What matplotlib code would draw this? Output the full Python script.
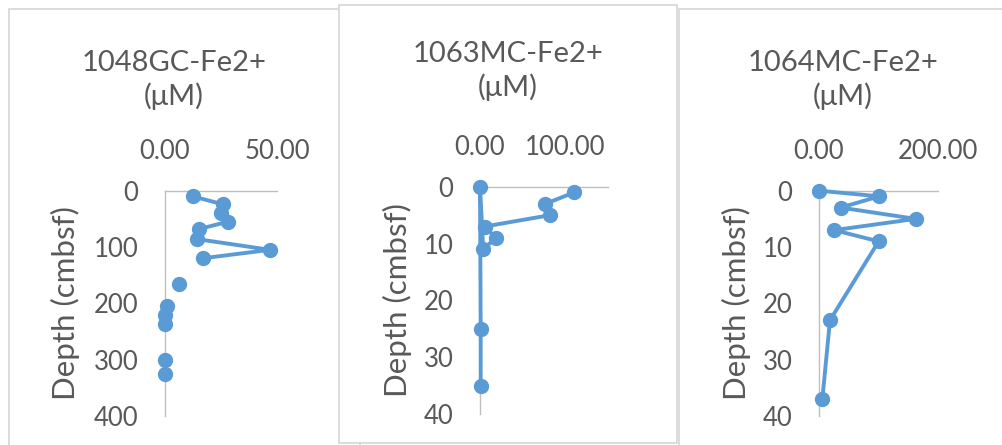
import numpy as np
import matplotlib
matplotlib.use("Agg")
import matplotlib.pyplot as plt
from matplotlib.patches import Rectangle

plt.rcParams['font.family'] = ['Lato', 'DejaVu Sans']

# 1048GC: Fe2+ (uM) vs depth (cmbsf); nan marks a gap in the series
fe_1048 = [12.3, 25.7, 24.8, 28.1, 15.3, 14.4, 46.9, 16.8, np.nan, 6.3, np.nan,
           0.7, np.nan, 0.0, np.nan, 0.2, np.nan, 0.2, np.nan, 0.2]
depth_1048 = [10, 24, 40, 55, 68, 86, 105, 120, np.nan, 165, np.nan,
              204, np.nan, 220, np.nan, 236, np.nan, 301, np.nan, 325]

# 1063MC
fe_1063 = [110.7, 76.9, 82.3, 5.4, 18.5, 3.8, 0.0, 0.8, 0.8]
depth_1063 = [1, 3, 5, 7, 9, 11, 0, 25, 35]

# 1064MC
fe_1064 = [0.0, 101, 36.3, 162, 25.7, 100, 18.4, 5.6]
depth_1064 = [0, 1, 3, 5, 7, 9, 23, 37]

titles = ['1048GC-Fe2+\n(μM)', '1063MC-Fe2+\n(μM)', '1064MC-Fe2+\n(μM)']
ylabel = 'Depth (cmbsf)'

W, H = 1003, 445
BLUE = '#5b9bd5'
GREY = '#595959'
AXC = '#bfbfbf'
FRAME = '#d9d9d9'


def box(l, t, r, b):
    return [l / W, 1 - b / H, (r - l) / W, (b - t) / H]


fig = plt.figure(figsize=(W / 100, H / 100), dpi=100)

# chart frames (middle one sits on top)
for (l, t, r, b), z in [((9, 9, 360, 460), -3), ((679, 9, 1020, 460), -3),
                        ((339, 5, 677, 443), -2)]:
    fig.add_artist(Rectangle((l / W, 1 - b / H), (r - l) / W, (b - t) / H,
                             transform=fig.transFigure, facecolor='white',
                             edgecolor=FRAME, lw=1.3, zorder=z))

panels = [
    dict(x=fe_1048, y=depth_1048, pos=(165, 190.7, 277, 416), xmax=50, xt=[0, 50],
         ymax=400, yt=[0, 100, 200, 300, 400], title_xy=(174, 80), lab_x=80),
    dict(x=fe_1063, y=depth_1063, pos=(480, 186.7, 607.7, 414.3), xmax=150, xt=[0, 100],
         ymax=40, yt=[0, 10, 20, 30, 40], title_xy=(508, 71), lab_x=412),
    dict(x=fe_1064, y=depth_1064, pos=(819, 190.7, 938.3, 416), xmax=200, xt=[0, 200],
         ymax=40, yt=[0, 10, 20, 30, 40], title_xy=(843, 80), lab_x=751),
]

for p, title in zip(panels, titles):
    l, t, r, b = p['pos']
    ax = fig.add_axes(box(l, t, r, b))
    ax.plot(p['x'], p['y'], '-o', color=BLUE, lw=2.8, ms=10, clip_on=False, zorder=3)
    ax.set_xlim(0, p['xmax'])
    ax.set_ylim(p['ymax'], 0)
    ax.set_xticks(p['xt'])
    ax.set_xticklabels(['%.2f' % v for v in p['xt']])
    ax.set_yticks(p['yt'])
    ax.xaxis.tick_top()
    ax.tick_params(length=0, labelsize=18.5, labelcolor=GREY)
    ax.tick_params(axis='x', pad=19)
    ax.tick_params(axis='y', pad=19)
    for s in ['right', 'bottom']:
        ax.spines[s].set_visible(False)
    for s in ['left', 'top']:
        ax.spines[s].set_color(AXC)
        ax.spines[s].set_linewidth(1.0)
    ax.set_ylabel(ylabel, fontsize=22.5, color=GREY)
    ax.yaxis.set_label_coords((p['lab_x'] - l) / (r - l), 0.5)
    tx, ty = p['title_xy']
    fig.text(tx / W, 1 - ty / H, title, ha='center', va='center', fontsize=21,
             color=GREY, linespacing=1.3)

fig.savefig('out.png', dpi=100, facecolor='white')
